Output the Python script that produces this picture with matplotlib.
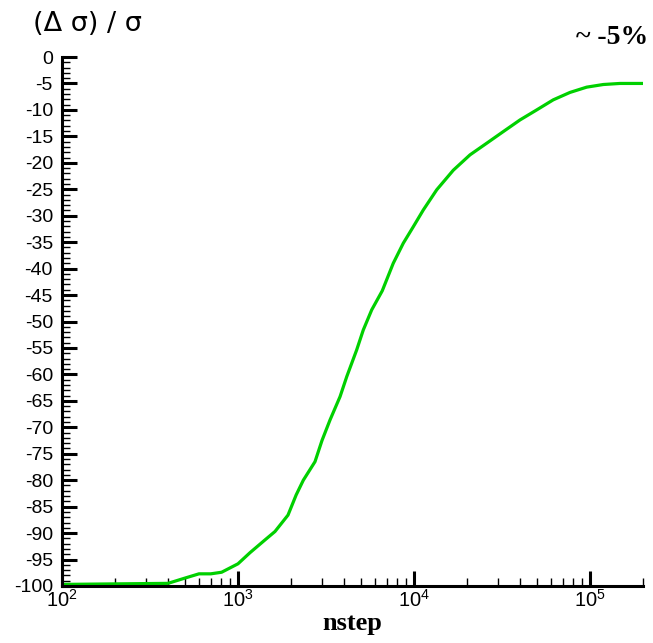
import math
import matplotlib
matplotlib.use("Agg")
import matplotlib.pyplot as plt
from matplotlib.ticker import LogLocator, MultipleLocator, FixedLocator, FuncFormatter

plt.rcParams['mathtext.fontset'] = 'custom'
plt.rcParams['mathtext.rm'] = 'Liberation Sans'
plt.rcParams['mathtext.it'] = 'Liberation Sans:italic'
plt.rcParams['mathtext.bf'] = 'Liberation Sans:bold'

# Data
nstep = [100, 400, 500, 600, 700, 807, 1000, 1170, 1422, 1622, 1923, 2139,
         2350, 2738, 3000, 3334, 3800, 4150, 4720, 5150, 5750, 6600, 7620,
         8690, 9900, 11300, 13460, 16720, 20800, 25880, 32150, 40000, 49800,
         61800, 76900, 95700, 119000, 148000, 200000]
delta = [-99.7, -99.5, -98.5, -97.7, -97.7, -97.4, -95.8, -93.7, -91.3, -89.7,
         -86.6, -82.8, -80.0, -76.5, -72.5, -68.6, -64.2, -60.4, -55.4, -51.6,
         -47.8, -44.2, -39.0, -35.2, -32.1, -28.9, -25.1, -21.4, -18.5, -16.3,
         -14.1, -11.9, -10.0, -8.1, -6.7, -5.7, -5.2, -5.0, -5.0]

y_ticks = list(range(0, -101, -5))
x_major = [1e2, 1e3, 1e4, 1e5]

fig = plt.figure(figsize=(6.53, 6.43), dpi=100)
ax = fig.add_axes([62/653, 57/643, (643-62)/653, (586-57)/643])

ax.plot(nstep, delta, color='#00d000', lw=2.3, solid_joinstyle='round')

ax.set_xscale('log')
ax.set_xlim(100, 2e5)
ax.set_ylim(-100, 0)

for s in ['top', 'right']:
    ax.spines[s].set_visible(False)
for s in ['left', 'bottom']:
    ax.spines[s].set_linewidth(2.2)
    ax.spines[s].set_capstyle('projecting')

ax.xaxis.set_major_locator(FixedLocator(x_major))
ax.xaxis.set_minor_locator(LogLocator(base=10, subs=range(2, 10), numticks=20))
ax.xaxis.set_major_formatter(FuncFormatter(lambda v, p: r'$\mathrm{10^{%d}}$' % round(math.log10(v))))
ax.xaxis.set_minor_formatter(FuncFormatter(lambda v, p: ''))
ax.yaxis.set_major_locator(FixedLocator(y_ticks))
ax.yaxis.set_minor_locator(MultipleLocator(1))
ax.yaxis.set_major_formatter(FuncFormatter(lambda v, p: '%d' % v))

ax.tick_params(which='major', direction='in', length=11, width=2.2,
               labelsize=14, colors='black')
ax.tick_params(which='minor', direction='in', length=6, width=1.0)
ax.tick_params(axis='y', which='major', pad=6.5)
ax.tick_params(axis='x', which='major', labelsize=14.5, pad=2)
for lab in ax.get_xticklabels() + ax.get_yticklabels():
    lab.set_fontfamily('Liberation Sans')

ax.set_xlabel('nstep', fontfamily='Liberation Serif', fontweight='bold',
              fontsize=19, labelpad=1)

fig.text(33/653, 1 - 24/643, '(Δ σ) / σ', fontfamily='DejaVu Sans',
         fontsize=19.5, ha='left', va='center')
fig.text(648/653, 1 - 38/643, '~ -5%', fontfamily='Liberation Serif',
         fontweight='bold', fontsize=20, ha='right', va='center')

fig.savefig('out.png', dpi=100)
